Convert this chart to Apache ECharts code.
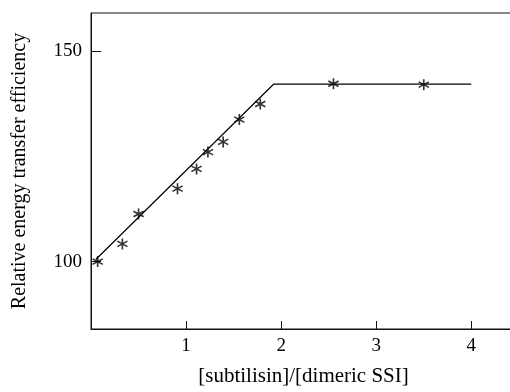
<!DOCTYPE html>
<html>
<head>
<meta charset="utf-8">
<script src="https://cdn.jsdelivr.net/npm/echarts@6/dist/echarts.min.js"></script>
<style>
  html, body { margin: 0; padding: 0; background: #fff; }
  #chart { width: 510px; height: 392px; }
</style>
</head>
<body>
<div id="chart"></div>
<script>
const ratio = [0.07, 0.33, 0.50, 0.91, 1.11, 1.23, 1.39, 1.56, 1.78, 2.55, 3.50];
const efficiency = [100.0, 104.2, 111.3, 117.3, 122.0, 126.0, 128.4, 133.7, 137.4, 142.2, 142.0];

// fitted line (rise then plateau)
const fitX = [0.05, 1.92, 4.0];
const fitY = [100.5, 142.1, 142.1];

const xTicks = [1, 2, 3, 4];
const yTicks = [100, 150];

const serif = 'Liberation Serif';

// asterisk marker made of three thin bars
const star = 'path://M43 0L57 0L57 100L43 100Z' +
  'M10.2 81L3.2 69L89.8 19L96.8 31Z' +
  'M3.2 31L10.2 19L96.8 69L89.8 81Z';

const chart = echarts.init(document.getElementById('chart'));

chart.setOption({
  animation: false,
  backgroundColor: '#fff',
  grid: {
    left: 91,
    right: -6,
    top: 13,
    bottom: 63,
    outerBoundsMode: 'none',
    show: true,
    borderColor: '#111',
    borderWidth: 1
  },
  xAxis: {
    type: 'value',
    min: 0,
    max: 4.47,
    name: '[subtilisin]/[dimeric SSI]',
    nameLocation: 'middle',
    nameGap: 37,
    nameTextStyle: { fontFamily: serif, fontSize: 21, color: '#000' },
    axisLine: { show: true, lineStyle: { color: '#111', width: 1 } },
    axisTick: { show: true, inside: true, length: 8, customValues: xTicks, lineStyle: { color: '#111' } },
    axisLabel: { customValues: xTicks, margin: 8, fontFamily: serif, fontSize: 19, color: '#000' },
    splitLine: { show: false }
  },
  yAxis: {
    type: 'value',
    min: 84,
    max: 159,
    name: 'Relative energy transfer efficiency',
    nameLocation: 'middle',
    nameGap: 61,
    nameTextStyle: { fontFamily: serif, fontSize: 20, color: '#000' },
    axisLine: { show: true, lineStyle: { color: '#111', width: 1 } },
    axisTick: { show: true, inside: true, length: 10, customValues: yTicks, lineStyle: { color: '#111' } },
    axisLabel: { customValues: yTicks, margin: 9, fontFamily: serif, fontSize: 19, color: '#000' },
    splitLine: { show: false }
  },
  series: [
    {
      type: 'line',
      data: fitX.map((x, i) => [x, fitY[i]]),
      symbol: 'none',
      lineStyle: { color: '#000', width: 1.2 },
      z: 2
    },
    {
      type: 'scatter',
      data: ratio.map((x, i) => [x, efficiency[i]]),
      symbol: star,
      symbolSize: 11,
      itemStyle: { color: '#000' },
      z: 3
    }
  ]
});
</script>
</body>
</html>
